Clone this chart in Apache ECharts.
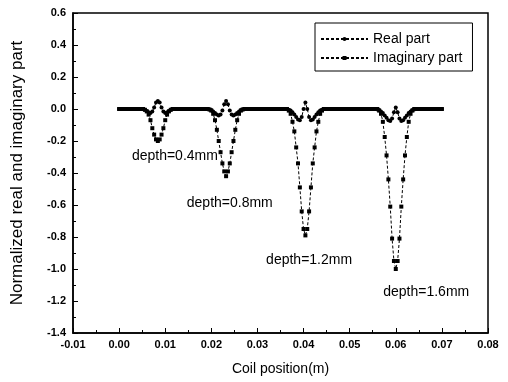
<!DOCTYPE html>
<html>
<head>
<meta charset="utf-8">
<script src="https://cdn.jsdelivr.net/npm/echarts@6/dist/echarts.min.js"></script>
<style>
  html, body { margin: 0; padding: 0; background: #fff; }
  #chart { width: 508px; height: 382px; }
</style>
</head>
<body>
<div id="chart"></div>
<script>
// coil scan: 176 samples from 0 to 0.07 m, 0.0004 m apart
const POS_START = 0;
const POS_STEP = 0.0004;

const realPart = [
  0, 0, 0, 0, 0, 0, 0, 0, 0, 0, 0, 0, 0, 0,
  -0.005, -0.012, -0.02, -0.025, -0.015, 0.01, 0.04, 0.05, 0.04, 0.01, -0.015, -0.025, -0.02, -0.012, -0.005,
  0, 0, 0, 0, 0, 0, 0, 0, 0, 0, 0, 0, 0, 0, 0, 0, 0, 0, 0, 0,
  -0.003, -0.007, -0.015, -0.025, -0.035, -0.04, -0.035, -0.01, 0.03, 0.05, 0.03, -0.01, -0.035, -0.04, -0.035, -0.025, -0.015, -0.007, -0.003,
  0, 0, 0, 0, 0, 0, 0, 0, 0, 0, 0, 0, 0, 0, 0, 0, 0, 0, 0, 0, 0, 0, 0, 0,
  -0.004, -0.01, -0.02, -0.035, -0.05, -0.065, -0.07, -0.05, 0.0, 0.04, 0.0, -0.05, -0.07, -0.065, -0.05, -0.035, -0.02, -0.01, -0.004,
  0, 0, 0, 0, 0, 0, 0, 0, 0, 0, 0, 0, 0, 0, 0, 0, 0, 0, 0, 0, 0, 0, 0, 0, 0, 0, 0, 0, 0,
  -0.003, -0.007, -0.015, -0.025, -0.04, -0.055, -0.07, -0.075, -0.06, -0.02, 0.01, -0.02, -0.06, -0.075, -0.07, -0.055, -0.04, -0.025, -0.015, -0.007, -0.003,
  0, 0, 0, 0, 0, 0, 0, 0, 0, 0, 0, 0, 0, 0, 0,
];

const imaginaryPart = [
  0, 0, 0, 0, 0, 0, 0, 0, 0, 0, 0, 0, 0, 0,
  -0.005, -0.015, -0.035, -0.07, -0.12, -0.16, -0.19, -0.2, -0.19, -0.16, -0.12, -0.07, -0.035, -0.015, -0.005,
  0, 0, 0, 0, 0, 0, 0, 0, 0, 0, 0, 0, 0, 0, 0, 0, 0, 0, 0, 0,
  -0.003, -0.01, -0.03, -0.07, -0.13, -0.2, -0.27, -0.34, -0.39, -0.42, -0.39, -0.34, -0.27, -0.2, -0.13, -0.07, -0.03, -0.01, -0.003,
  0, 0, 0, 0, 0, 0, 0, 0, 0, 0, 0, 0, 0, 0, 0, 0, 0, 0, 0, 0, 0, 0, 0, 0,
  -0.01, -0.03, -0.08, -0.14, -0.24, -0.34, -0.49, -0.64, -0.75, -0.79, -0.75, -0.64, -0.49, -0.34, -0.24, -0.14, -0.08, -0.03, -0.01,
  0, 0, 0, 0, 0, 0, 0, 0, 0, 0, 0, 0, 0, 0, 0, 0, 0, 0, 0, 0, 0, 0, 0, 0, 0, 0, 0, 0, 0,
  0, -0.01, -0.03, -0.08, -0.175, -0.29, -0.44, -0.61, -0.81, -0.95, -1.0, -0.95, -0.81, -0.61, -0.44, -0.29, -0.175, -0.08, -0.03, -0.01, 0,
  0, 0, 0, 0, 0, 0, 0, 0, 0, 0, 0, 0, 0, 0, 0,
];

const depthLabels = ["depth=0.4mm", "depth=0.8mm", "depth=1.2mm", "depth=1.6mm"];
const depthLabelX = [0.0121, 0.024, 0.0412, 0.0666];
const depthLabelY = [-0.294, -0.59, -0.944, -1.144];

const FONT = "Liberation Sans, Arial, sans-serif";

function withPositions(values) {
  return values.map((v, i) => [Number((POS_START + i * POS_STEP).toFixed(4)), v]);
}

const chart = echarts.init(document.getElementById("chart"));

const axisLine = { onZero: false, lineStyle: { color: "#000", width: 1.5 } };
const tick = { inside: true, length: 5, lineStyle: { color: "#000" } };
const minor = { show: true, splitNumber: 2, length: 3, lineStyle: { color: "#000" } };

chart.setOption({
  animation: false,
  textStyle: { fontFamily: FONT, color: "#000" },
  grid: {
    left: 73,
    right: 20,
    top: 13,
    bottom: 49,
    show: true,
    borderColor: "#000",
    borderWidth: 1.5,
  },
  legend: {
    orient: "vertical",
    left: 315,
    top: 23,
    padding: [9, 10, 6, 5],
    itemWidth: 47,
    itemHeight: 5,
    itemGap: 5,
    borderColor: "#000",
    borderWidth: 1,
    textStyle: { fontFamily: FONT, fontSize: 14, color: "#000" },
    data: ["Real part", "Imaginary part"],
  },
  xAxis: {
    type: "value",
    min: -0.01,
    max: 0.08,
    interval: 0.01,
    name: "Coil position(m)",
    nameLocation: "middle",
    nameGap: 29,
    nameTextStyle: { fontFamily: FONT, fontSize: 14, color: "#000" },
    axisLine,
    axisTick: tick,
    minorTick: minor,
    splitLine: { show: false },
    axisLabel: {
      fontFamily: FONT,
      fontSize: 11,
      fontWeight: "bold",
      color: "#000",
      margin: 6,
      formatter: (v) => v.toFixed(2),
    },
  },
  yAxis: {
    type: "value",
    min: -1.4,
    max: 0.6,
    interval: 0.2,
    name: "Normalized real and imaginary part",
    nameLocation: "middle",
    nameRotate: 90,
    nameGap: 47,
    nameTextStyle: { fontFamily: FONT, fontSize: 17, color: "#000" },
    axisLine,
    axisTick: tick,
    minorTick: minor,
    splitLine: { show: false },
    axisLabel: {
      fontFamily: FONT,
      fontSize: 11,
      fontWeight: "bold",
      color: "#000",
      margin: 7,
      formatter: (v) => v.toFixed(1),
    },
  },
  series: [
    {
      name: "Real part",
      type: "line",
      symbol: "circle",
      symbolSize: 4,
      showAllSymbol: true,
      itemStyle: { color: "#000" },
      lineStyle: { color: "#000", width: 1, type: [3, 2] },
      data: withPositions(realPart),
    },
    {
      name: "Imaginary part",
      type: "line",
      symbol: "rect",
      symbolSize: 4,
      showAllSymbol: true,
      itemStyle: { color: "#000" },
      lineStyle: { color: "#000", width: 1, type: [3, 2] },
      data: withPositions(imaginaryPart),
      markPoint: {
        symbol: "circle",
        symbolSize: 0,
        label: {
          show: true,
          position: "inside",
          fontFamily: FONT,
          fontSize: 14,
          color: "#000",
          formatter: (p) => p.name,
        },
        data: depthLabels.map((name, i) => ({
          name,
          coord: [depthLabelX[i], depthLabelY[i]],
        })),
      },
    },
  ],
});
</script>
</body>
</html>
